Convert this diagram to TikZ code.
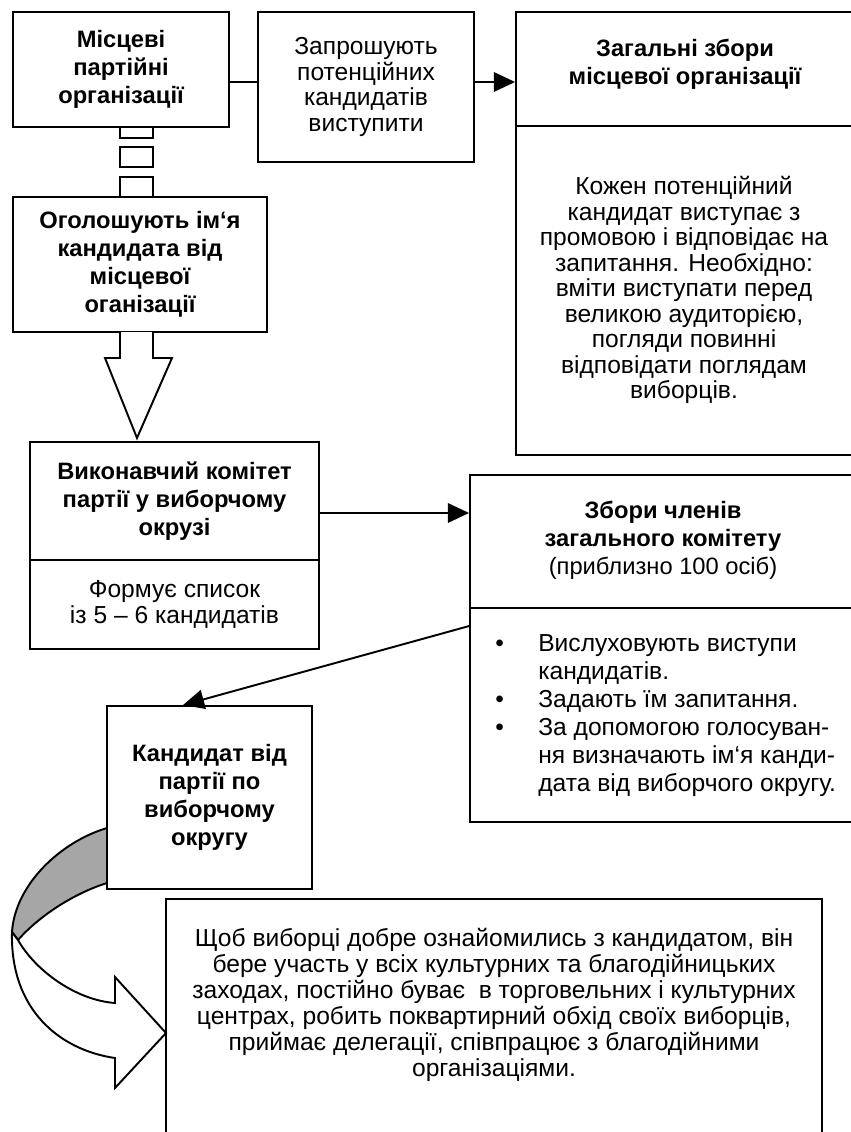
\documentclass[tikz,border=0pt]{standalone}
\usepackage{fontspec}
\setmainfont{Liberation Sans}
\usetikzlibrary{arrows.meta}
\tikzset{
    box/.style={draw, line width=1.1pt, inner sep=0pt}, % frames
    txt/.style={align=center, inner sep=0pt, font=\fontsize{14}{14.5}\selectfont},
    txtb/.style={align=center, inner sep=0pt, font=\fontsize{13.5}{16}\selectfont\bfseries},
    ln/.style={line width=1.1pt},
    arr/.style={line width=1.1pt, -{Triangle[length=12pt, width=11pt]}}
}

\begin{document}
\begin{tikzpicture}[x=0.02cm, y=-0.02cm]
\clip (0,0) rectangle (851,1132);

% left column
\node[box, txtb, minimum width=4.32cm, minimum height=2.3cm] (mist) at (121,69.5)
    {Місцеві\\партійні\\організації};
\node[box, txt, minimum width=4.32cm, minimum height=3cm] (zap) at (366,87)
    {Запрошують\\потенційних\\кандидатів\\виступити};
\node[box, txtb, minimum width=5.08cm, minimum height=2.7cm] (ogol) at (140,264.5)
    {Оголошують ім‘я\\кандидата від\\місцевої\\оганізації};
\node[box, txtb, minimum width=5.78cm, minimum height=2.36cm] (vyktop) at (174.5,501)
    {Виконавчий комітет\\партії у виборчому\\окрузі};
\node[box, txt, minimum width=5.78cm, minimum height=1.78cm] (vykbot) at (174.5,604.5)
    {Формує список\\із 5 – 6 кандидатів};
\node[box, txtb, minimum width=4.1cm, minimum height=3.66cm] (kand) at (209.5,797.5)
    {Кандидат від\\партії по\\виборчому\\округу};

% right column
\node[box, minimum width=7.28cm, minimum height=2.28cm] (zagtop) at (698,69) {};
\node[box, minimum width=7.28cm, minimum height=6.58cm] (zagbot) at (698,290.5) {};
\node[txtb] (zagname) at (685,64) {Загальні збори\\місцевої організації};
\node[txt] (zagtext) at (684,290) {Кожен потенційний\\кандидат виступає з\\промовою і відповідає на\\запитання. Необхідно:\\вміти виступати перед\\великою аудиторією,\\погляди повинні\\відповідати поглядам\\виборців.};

\node[box, minimum width=8.2cm, minimum height=2.66cm] (zbtop) at (675,541.5) {};
\node[box, minimum width=8.2cm, minimum height=4.28cm] (zbbot) at (675,715) {};
\node[txtb] (zbname) at (663,540) {Збори членів\\загального комітету\\\mdseries(приблизно 100 осіб)};
\node[txt, anchor=west, align=left, font=\fontsize{14}{16}\selectfont] (zblist) at (495,716) {%
    \begin{tabular}{@{}p{0.86cm}@{}l@{}}
    • & Вислуховують виступи\\
      & кандидатів.\\
    • & Задають їм запитання.\\
    • & За допомогою голосуван-\\
      & ня визначають ім‘я канди-\\
      & дата від виборчого округу.
    \end{tabular}};

\node[box, minimum width=13.12cm, minimum height=5.62cm] (zahody) at (494,1039.5) {};
\node[txt, font=\fontsize{14}{14.8}\selectfont] (zahtext) at (494,1005) {Щоб виборці добре ознайомились з кандидатом, він\\бере участь у всіх культурних та благодійницьких\\заходах, постійно буває \ в торговельних і культурних\\центрах, робить поквартирний обхід своїх виборців,\\приймає делегації, співпрацює з благодійними\\організаціями.};

% connectors
\draw[ln] ([yshift=-0.25cm]mist.east) -- ([yshift=-0.25cm]mist.east -| zap.west);
\draw[arr] ([yshift=0.1cm]zap.east) -- ([yshift=0.1cm]zap.east -| zagtop.west);
\draw[arr] ([yshift=-0.24cm]vyktop.east) -- ([yshift=-0.24cm]vyktop.east -| zbtop.west);
\draw[arr] ([yshift=-0.38cm]zbbot.north west) -- ([xshift=-0.53cm]kand.north);

% striped link and hollow arrow
\foreach \ya/\yb in {127/138, 147/167, 177/197}
    \draw[ln] (120,\ya) rectangle (153,\yb);
\draw[ln, fill=white] (120,332) -- (120,358) -- (105,358) -- (137,438) -- (172,358) -- (153,358) -- (153,332);

% curved arrow
\draw[ln, fill=black!35] (107,828) .. controls (60,842) and (15,885) .. (12,932)
    -- (18,940) .. controls (40,915) and (75,893) .. (107,883) -- cycle;
\draw[ln, fill=white] (12,932) -- (18,940) .. controls (35,970) and (75,1000) .. (115,1003)
    -- (115,977) -- (166,1033) -- (115,1088) -- (115,1058)
    .. controls (60,1050) and (10,1010) .. (12,932) -- cycle;
\end{tikzpicture}
\end{document}
